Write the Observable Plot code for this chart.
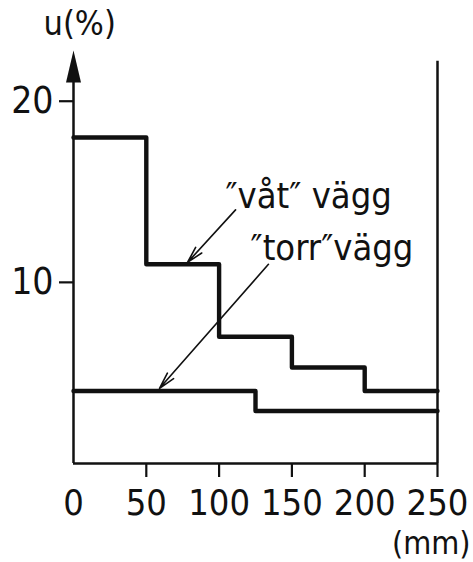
<!DOCTYPE html>
<html>
<head>
<meta charset="utf-8">
<script src="https://cdn.jsdelivr.net/npm/d3@7"></script>
<script src="https://cdn.jsdelivr.net/npm/@observablehq/plot@0.6"></script>
<style>
  html, body { margin: 0; padding: 0; background: #fff; }
  #chart svg { display: block; }
</style>
</head>
<body>
<div id="chart"></div>
<script>
// Data
const wetX = [0, 50, 100, 150, 200, 250];
const wetU = [18, 11, 7, 5.3, 4, 4];
const dryX = [0, 125, 250];
const dryU = [4, 2.9, 2.9];
const xTickValues = [0, 50, 100, 150, 200, 250];
const yTickValues = [10, 20];
const labels = ["\u2033våt\u2033 vägg", "\u2033torr\u2033vägg"];
const yLabel = "u(%)";
const xLabel = "(mm)";

const wet = wetX.map((x, i) => ({x, u: wetU[i]}));
const dry = dryX.map((x, i) => ({x, u: dryU[i]}));

const font = "'Liberation Sans Narrow', 'DejaVu Sans Condensed', 'Arial Narrow', sans-serif";
const ink = "#111";

// narrow filled arrowhead symbol (tip at the anchor point, pointing up)
const arrowHead = {
  draw(context, size) {
    const h = 32, w = 7.5;
    context.moveTo(0, 0);
    context.lineTo(w, h);
    context.lineTo(-w, h);
    context.closePath();
  }
};

const yMax = 22.8;

const chart = Plot.plot({
  width: 473,
  height: 562,
  marginLeft: 73,
  marginRight: 36,
  marginTop: 50,
  marginBottom: 99,
  x: {domain: [0, 250]},
  y: {domain: [0, yMax]},
  style: {fontFamily: font, background: "#fff", color: ink},
  marks: [
    Plot.axisY({ticks: yTickValues, tickSize: 14, tickPadding: 6, fontSize: 37, strokeWidth: 2.2, label: null}),
    Plot.axisX({ticks: xTickValues.filter(d => d > 0), tickSize: 14, tickFormat: () => "", strokeWidth: 2.2, label: null}),
    Plot.axisX({ticks: xTickValues, tickSize: 0, tickPadding: 26, fontSize: 36, label: null}),
    Plot.ruleY([0], {x1: 0, x2: 250, stroke: ink, strokeWidth: 2.5}),
    Plot.ruleX([0], {y1: 0, y2: yMax - 1.6, stroke: ink, strokeWidth: 2.5}),
    Plot.ruleX([250], {y1: 0, y2: 22.2, stroke: ink, strokeWidth: 2.5}),
    Plot.dot([0], {x: 0, y: yMax, symbol: arrowHead, fill: ink, stroke: "none"}),
    Plot.line(wet, {x: "x", y: "u", curve: "step-after", stroke: ink, strokeWidth: 4.4, strokeLinejoin: "round"}),
    Plot.line(dry, {x: "x", y: "u", curve: "step-after", stroke: ink, strokeWidth: 4.4, strokeLinejoin: "round"}),
    Plot.arrow([{x1: 111.3, y1: 14.0, x2: 78.3, y2: 11.1}], {x1: "x1", y1: "y1", x2: "x2", y2: "y2", stroke: ink, strokeWidth: 1.6, headLength: 16, headAngle: 28, bend: 0}),
    Plot.arrow([{x1: 133.9, y1: 11.0, x2: 59.1, y2: 4.15}], {x1: "x1", y1: "y1", x2: "x2", y2: "y2", stroke: ink, strokeWidth: 1.6, headLength: 16, headAngle: 28, bend: 0}),
    Plot.text([labels[0]], {x: 104.4, y: 14.08, text: d => d, textAnchor: "start", lineAnchor: "bottom", fontSize: 36, fill: ink}),
    Plot.text([labels[1]], {x: 121.6, y: 11.21, text: d => d, textAnchor: "start", lineAnchor: "bottom", fontSize: 36, fill: ink}),
    Plot.text([yLabel], {frameAnchor: "top-left", dx: -30, dy: -40, text: d => d, textAnchor: "start", lineAnchor: "top", fontSize: 34, fill: ink}),
    Plot.text([xLabel], {frameAnchor: "bottom-right", dx: 33, dy: 68, text: d => d, textAnchor: "end", lineAnchor: "top", fontSize: 32, fill: ink})
  ]
});
document.getElementById("chart").appendChild(chart);
</script>
</body>
</html>
